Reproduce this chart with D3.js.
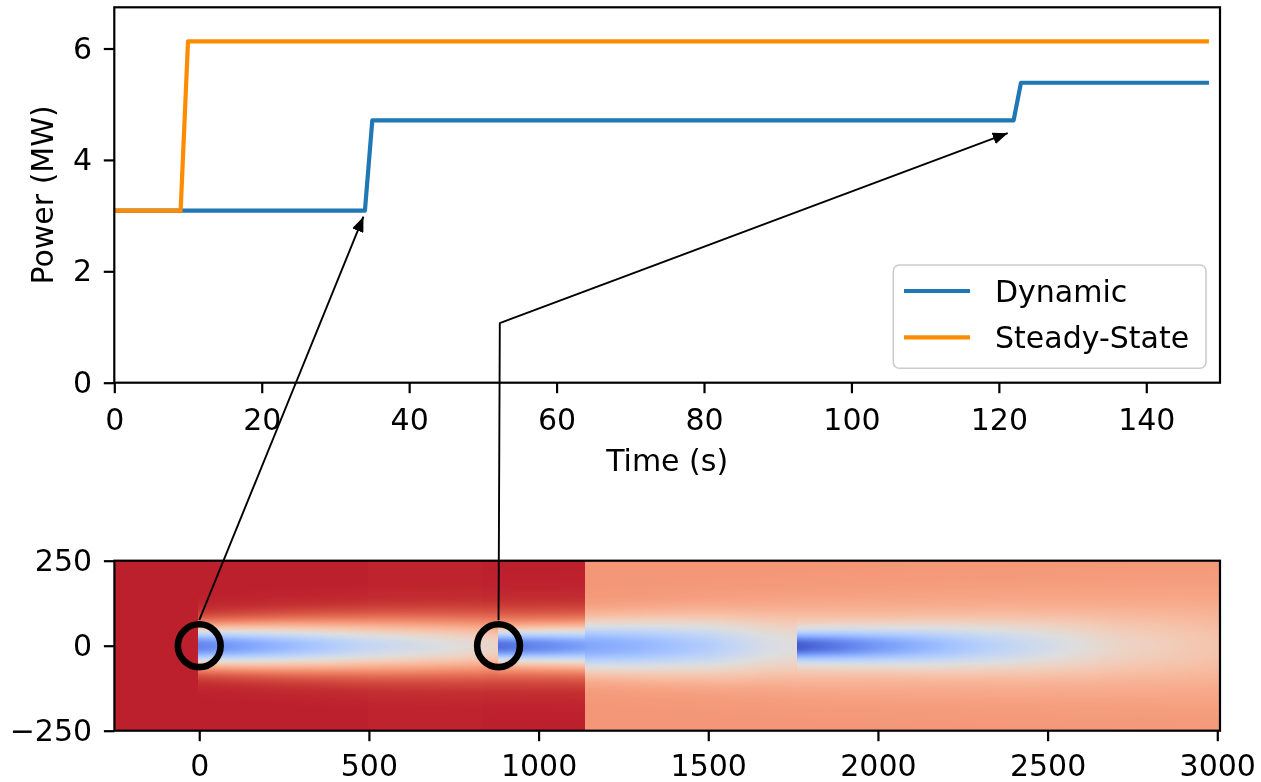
<!DOCTYPE html>
<html>
<head>
<meta charset="utf-8">
<script src="https://cdn.jsdelivr.net/npm/d3@7"></script>
<style>
  html, body { margin: 0; padding: 0; background: #fff; }
  #fig { position: relative; width: 1261px; height: 782px; }
  #fig canvas, #fig svg { position: absolute; left: 0; top: 0; }
  text { font-family: "DejaVu Sans", sans-serif; fill: #000; }
</style>
</head>
<body>
<div id="fig"></div>
<script>
// ---------- power time series ----------
const seriesNames = ["Dynamic", "Steady-State"];
const seriesColors = ["#1f77b4", "#ff8c00"];
const dynTime  = [0, 34, 35, 122, 123, 148.5];
const dynPower = [3.09, 3.09, 4.71, 4.71, 5.385, 5.385];
const ssTime   = [0, 9, 10, 148.5];
const ssPower  = [3.09, 3.09, 6.13, 6.13];
const timeTicks  = [0, 20, 40, 60, 80, 100, 120, 140];
const powerTicks = [0, 2, 4, 6];

// ---------- wake field (normalised wind speed, 0..1 on the colour map) ----------
const turbineX = [0, 882, 1764];
const rotorRadius = 63;
const frontX = 1140;                    // new inflow has advanced up to here
const bgLeftStart = [-250, 500, 835];   // free-stream behind the front, by stretch
const bgLeftValue = [0.976, 0.9735, 0.9755];
const bgRight = 0.758;                  // old free-stream ahead of the front
// wake tables: distance downstream of the rotor, centre-line deficit, width
const wakeL1Rel = [0, 250, 500, 882, 1140];
const wakeL1Def = [0.845, 0.70, 0.56, 0.42, 0.36];
const wakeL1Sig = [40, 46, 51, 55, 57];
const wakeL2Rel = [0, 258];
const wakeL2Def = [0.48, 0.41];
const wakeL2Sig = [28, 36];
const wakeR2Rel = [258, 418, 618, 788, 882, 1118, 1368, 1618, 1868, 2126];
const wakeR2Def = [0.54, 0.49, 0.40, 0.285, 0.25, 0.20, 0.16, 0.13, 0.105, 0.09];
const wakeR2Sig = [50, 54, 60, 66, 70, 76, 83, 90, 97, 104];
const wakeR3Rel = [0, 271, 576, 936, 1244];
const wakeR3Def = [0.48, 0.36, 0.225, 0.095, 0.04];
const wakeR3Sig = [28, 36, 46, 58, 70];
const fieldXTicks = [0, 500, 1000, 1500, 2000, 2500, 3000];
const fieldYTicks = [-250, 0, 250];

// matplotlib "coolwarm"
const coolwarmStops = [
  [59,76,192],[68,90,204],[77,104,215],[87,117,225],[98,130,234],[108,142,241],
  [119,154,247],[130,165,251],[141,176,254],[152,185,255],[163,194,255],[174,201,253],
  [184,208,249],[194,213,244],[204,217,238],[213,219,230],[221,221,221],[229,216,209],
  [236,211,197],[241,204,185],[245,196,173],[247,187,160],[247,177,148],[247,166,135],
  [244,154,123],[241,141,111],[236,127,99],[229,112,88],[222,96,77],[213,80,66],
  [203,62,56],[192,40,47],[180,4,38]
];

// ---------- layout ----------
const W = 1261, H = 782, fs = 30;
const topBox = { l: 114.3, r: 1220, t: 7.3, b: 382.7 };
const botBox = { l: 114.4, r: 1220, t: 560.7, b: 730.7 };
const tickLen = 10.5;

const xT = d3.scaleLinear().domain([0, 150]).range([topBox.l, topBox.r]);
const yT = d3.scaleLinear().domain([0, 6.74]).range([topBox.b, topBox.t]);
const xB = d3.scaleLinear().domain([-250, 3008]).range([botBox.l, botBox.r]);
const yB = d3.scaleLinear().domain([-250, 250]).range([botBox.b, botBox.t]);

const colour = d3.scaleLinear()
  .domain(coolwarmStops.map((_, i) => i / (coolwarmStops.length - 1)))
  .range(coolwarmStops.map(c => d3.rgb(c[0], c[1], c[2]).toString()))
  .interpolate(d3.interpolateRgb)
  .clamp(true);

const table = (rel, vals) => d3.scaleLinear().domain(rel).range(vals).clamp(true);
const wakes = [
  { behindFront: true,  origin: turbineX[0], from: turbineX[0], D: table(wakeL1Rel, wakeL1Def), S: table(wakeL1Rel, wakeL1Sig) },
  { behindFront: true,  origin: turbineX[1], from: turbineX[1], D: table(wakeL2Rel, wakeL2Def), S: table(wakeL2Rel, wakeL2Sig) },
  { behindFront: false, origin: turbineX[1], from: frontX,      D: table(wakeR2Rel, wakeR2Def), S: table(wakeR2Rel, wakeR2Sig) },
  { behindFront: false, origin: turbineX[2], from: turbineX[2], D: table(wakeR3Rel, wakeR3Def), S: table(wakeR3Rel, wakeR3Sig) }
];

function speed(x, y) {
  const behind = x < frontX;
  let u = behind ? bgLeftValue[Math.max(0, d3.bisectRight(bgLeftStart, x) - 1)] : bgRight;
  for (const w of wakes) {
    if (w.behindFront !== behind || x < w.from) continue;
    const r = x - w.origin, s = w.S(r);
    u -= w.D(r) * Math.exp(-(y * y) / (2 * s * s));
  }
  return u;
}

// ---------- canvas: wake field ----------
const fig = d3.select("#fig");
const canvas = fig.append("canvas").attr("width", W).attr("height", H).node();
const ctx = canvas.getContext("2d");
ctx.fillStyle = "#fff";
ctx.fillRect(0, 0, W, H);
ctx.save();
ctx.beginPath();
ctx.rect(botBox.l, botBox.t, botBox.r - botBox.l, botBox.b - botBox.t);
ctx.clip();
const cell = 3;
const [fx0, fx1] = xB.domain(), [fy0, fy1] = yB.domain();
for (let cx = fx0; cx < fx1; cx += cell) {
  const cx2 = Math.min(cx + cell, fx1);
  const px0 = Math.floor(xB(cx)), px1 = Math.ceil(xB(cx2));
  for (let cy = fy0; cy < fy1; cy += cell) {
    const cy2 = Math.min(cy + cell, fy1);
    ctx.fillStyle = colour(speed((cx + cx2) / 2, (cy + cy2) / 2));
    const py0 = Math.floor(yB(cy2)), py1 = Math.ceil(yB(cy));
    ctx.fillRect(px0, py0, px1 - px0, py1 - py0);
  }
}
ctx.restore();

// ---------- svg ----------
const svg = fig.append("svg").attr("width", W).attr("height", H);

function styleAxis(g) {
  g.select(".domain").remove();
  g.selectAll(".tick line").attr("stroke", "#000").attr("stroke-width", 2.2);
  g.selectAll(".tick text").attr("font-size", fs).attr("font-family", "DejaVu Sans").attr("fill", "#000");
}

// top panel: power
const gTop = svg.append("g");
const line = d3.line().x(d => xT(d[0])).y(d => yT(d[1]));
const series = [d3.zip(dynTime, dynPower), d3.zip(ssTime, ssPower)];
gTop.selectAll("path.series").data(series).join("path")
  .attr("class", "series")
  .attr("d", line)
  .attr("fill", "none")
  .attr("stroke", (d, i) => seriesColors[i])
  .attr("stroke-width", 4.2)
  .attr("stroke-linejoin", "round");

gTop.append("g").attr("transform", `translate(0,${topBox.b})`)
  .call(d3.axisBottom(xT).tickValues(timeTicks).tickFormat(d3.format("d")).tickSize(tickLen).tickPadding(15.5).tickSizeOuter(0))
  .call(styleAxis);
gTop.append("g").attr("transform", `translate(${topBox.l},0)`)
  .call(d3.axisLeft(yT).tickValues(powerTicks).tickFormat(d3.format("d")).tickSize(tickLen).tickPadding(11.8).tickSizeOuter(0))
  .call(styleAxis);
gTop.append("rect")
  .attr("x", topBox.l).attr("y", topBox.t)
  .attr("width", topBox.r - topBox.l).attr("height", topBox.b - topBox.t)
  .attr("fill", "none").attr("stroke", "#000").attr("stroke-width", 2.2);

gTop.append("text")
  .attr("x", (topBox.l + topBox.r) / 2).attr("y", 471)
  .attr("text-anchor", "middle").attr("font-size", fs)
  .text("Time (s)");
gTop.append("text")
  .attr("transform", `translate(53,${(topBox.t + topBox.b) / 2}) rotate(-90)`)
  .attr("text-anchor", "middle").attr("font-size", fs)
  .text("Power (MW)");

// legend
const leg = gTop.append("g");
leg.append("rect")
  .attr("x", 893.3).attr("y", 265).attr("width", 312.7).attr("height", 103.3)
  .attr("rx", 6).attr("ry", 6)
  .attr("fill", "#fff").attr("fill-opacity", 0.8)
  .attr("stroke", "#cccccc").attr("stroke-width", 1.6);
seriesNames.forEach((name, i) => {
  const y = 291 + i * 46.3;
  leg.append("line").attr("x1", 904).attr("x2", 970).attr("y1", y).attr("y2", y)
    .attr("stroke", seriesColors[i]).attr("stroke-width", 4.2);
  leg.append("text").attr("x", 995).attr("y", y).attr("dy", "0.35em")
    .attr("font-size", fs).text(name);
});

// bottom panel: wake field axes
const gBot = svg.append("g");
gBot.append("g").attr("transform", `translate(0,${botBox.b})`)
  .call(d3.axisBottom(xB).tickValues(fieldXTicks).tickFormat(d3.format("d")).tickSize(tickLen).tickPadding(13.5).tickSizeOuter(0))
  .call(styleAxis);
gBot.append("g").attr("transform", `translate(${botBox.l},0)`)
  .call(d3.axisLeft(yB).tickValues(fieldYTicks).tickFormat(d3.format("d")).tickSize(tickLen).tickPadding(11.8).tickSizeOuter(0))
  .call(styleAxis);
gBot.append("rect")
  .attr("x", botBox.l).attr("y", botBox.t)
  .attr("width", botBox.r - botBox.l).attr("height", botBox.b - botBox.t)
  .attr("fill", "none").attr("stroke", "#000").attr("stroke-width", 2.2);

// rotor rings on the first two turbines
const ringR = xB(rotorRadius) - xB(0);
gBot.selectAll("circle.rotor").data(turbineX.slice(0, 2)).join("circle")
  .attr("class", "rotor")
  .attr("cx", d => xB(d)).attr("cy", yB(0)).attr("r", ringR)
  .attr("fill", "none").attr("stroke", "#000").attr("stroke-width", 6.6);

// annotation arrows linking rotors to power steps
const defs = svg.append("defs");
defs.append("marker")
  .attr("id", "head").attr("markerUnits", "userSpaceOnUse")
  .attr("markerWidth", 16).attr("markerHeight", 12)
  .attr("refX", 15).attr("refY", 6).attr("orient", "auto")
  .append("path").attr("d", "M0,0 L15,6 L0,12 Z").attr("fill", "#000");

const annot = svg.append("g");
// first turbine -> first dynamic step
const a1 = [[xB(turbineX[0]), yB(rotorRadius + 12)], [xT(33.8), yT(2.98)]];
annot.append("path")
  .attr("d", d3.line()(a1))
  .attr("fill", "none").attr("stroke", "#000").attr("stroke-width", 1.9)
  .attr("marker-end", "url(#head)");
// second turbine -> second dynamic step
const a2 = [[xB(turbineX[1]), yB(rotorRadius + 12)], [xT(52.3), yT(1.07)], [xT(121.2), yT(4.48)]];
annot.append("path")
  .attr("d", d3.line()(a2))
  .attr("fill", "none").attr("stroke", "#000").attr("stroke-width", 1.9)
  .attr("stroke-linejoin", "miter")
  .attr("marker-end", "url(#head)");
</script>
</body>
</html>
